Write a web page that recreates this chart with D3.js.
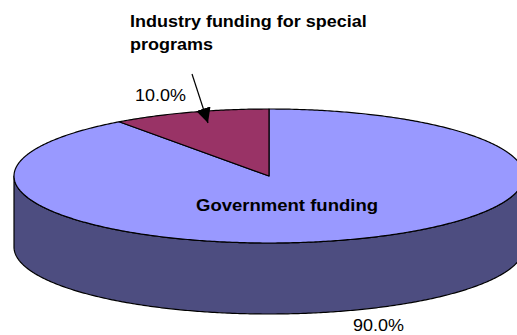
<!DOCTYPE html>
<html>
<head>
<meta charset="utf-8">
<script src="https://cdn.jsdelivr.net/npm/d3@7"></script>
<style>
  html, body { margin: 0; padding: 0; background: #fff; }
  svg { display: block; }
  text { font-family: "Liberation Sans", Arial, sans-serif; fill: #000; }
</style>
</head>
<body>
<svg id="chart" width="517" height="335"></svg>
<script>
// ---- data ----
const categories = ["Government funding", "Industry funding for special programs"];
const values = [90, 10];
const percentLabels = ["90.0%", "10.0%"];

// ---- layout ----
const W = 517, H = 335;
const cx = 269, cy = 176, rx = 255, ry = 67, depth = 71;
const topColors = ["#9999FF", "#993366"];
const sideColors = ["#4D4D80", "#4D1A33"];
const SX = 1.09; // horizontal stretch of text as in the reference

const svg = d3.select("#chart");

const pie = d3.pie().sort(null).value(d => d);
const arcs = pie(values);

const px = d3.scaleLinear().domain([-1, 1]).range([cx - rx, cx + rx]);
const py = d3.scaleLinear().domain([-1, 1]).range([cy - ry, cy + ry]);
function pt(a, dz) { return [px(Math.sin(a)), py(-Math.cos(a)) + (dz || 0)]; }

function sampleAngles(a0, a1) {
  const n = Math.max(2, Math.ceil(Math.abs(a1 - a0) / 0.01));
  return d3.range(n + 1).map(i => a0 + (a1 - a0) * i / n);
}

// ---- side walls (front half only) ----
arcs.forEach((a, i) => {
  const s = Math.max(a.startAngle, Math.PI / 2);
  const e = Math.min(a.endAngle, 3 * Math.PI / 2);
  if (e <= s) return;
  const angs = sampleAngles(s, e);
  const topPts = angs.map(t => pt(t, 0));
  const botPts = angs.slice().reverse().map(t => pt(t, depth));
  svg.append("path")
    .attr("d", d3.line()(topPts.concat(botPts)) + "Z")
    .attr("fill", sideColors[i])
    .attr("stroke", "#000")
    .attr("stroke-width", 1.2)
    .attr("stroke-linejoin", "round");
});

// ---- top faces ----
arcs.forEach((a, i) => {
  const angs = sampleAngles(a.startAngle, a.endAngle);
  const pts = [[cx, cy]].concat(angs.map(t => pt(t, 0)));
  svg.append("path")
    .attr("d", d3.line()(pts) + "Z")
    .attr("fill", topColors[i])
    .attr("stroke", "#000")
    .attr("stroke-width", 1.2)
    .attr("stroke-linejoin", "round");
});

// ---- labels ----
function label(x, y, size, bold, anchor) {
  const g = svg.append("g").attr("transform", `translate(${x},${y}) scale(${SX},1)`);
  return g.append("text")
    .attr("x", 0).attr("y", 0)
    .attr("text-anchor", anchor || "start")
    .style("font-weight", bold ? "bold" : "normal")
    .style("font-size", size + "px");
}

label(287, 211, 17, true, "middle").text(categories[0]);
label(353, 331, 16.5, false).text(percentLabels[0]);

const words = categories[1].split(" ");
const ind = label(130, 27, 16.5, true);
ind.append("tspan").attr("x", 0).attr("y", 0).text(words.slice(0, 4).join(" "));
ind.append("tspan").attr("x", 0).attr("y", 23).text(words.slice(4).join(" "));

label(135, 101, 16.5, false).text(percentLabels[1]);

// arrow
svg.append("defs").append("marker")
  .attr("id", "ah")
  .attr("viewBox", "0 0 10 10")
  .attr("refX", 10).attr("refY", 5)
  .attr("markerWidth", 15).attr("markerHeight", 15)
  .attr("markerUnits", "userSpaceOnUse")
  .attr("orient", "auto")
  .append("path").attr("d", "M0,0 L10,5 L0,10 Z").attr("fill", "#000");

svg.append("line")
  .attr("x1", 192).attr("y1", 74)
  .attr("x2", 208).attr("y2", 123)
  .attr("stroke", "#000")
  .attr("stroke-width", 1.2)
  .attr("marker-end", "url(#ah)");
</script>
</body>
</html>
